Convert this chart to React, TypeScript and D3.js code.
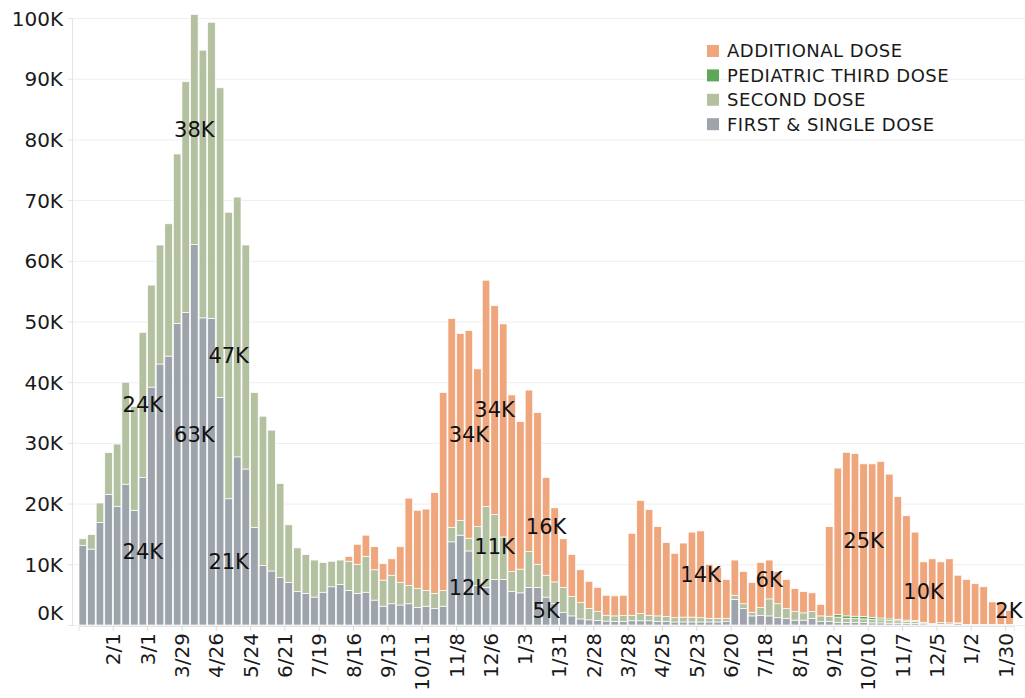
import { useEffect, useRef } from 'react';
import * as d3 from 'd3';

// weekly doses, in thousands, weeks starting Mon 1/4/2021
const FIRST = [
  13.1, 12.5, 16.9, 21.5, 19.5, 23.2, 18.9, 24.3, 39.2, 43.0, 44.3, 49.7, 51.5, 62.7, 50.6, 50.5, 37.5, 20.8, 27.7, 25.7,
  16.1, 9.8, 8.9, 7.8, 7.0, 5.5, 5.2, 4.6, 5.4, 6.3, 6.7, 5.7, 5.2, 5.4, 4.1, 3.1, 3.5, 3.3, 3.5, 2.9,
  3.1, 2.7, 3.1, 13.7, 14.8, 12.2, 6.5, 6.2, 7.5, 7.5, 5.5, 5.3, 6.2, 6.2, 4.6, 3.5, 2.1, 1.5, 1.0, 0.85,
  0.75, 0.65, 0.6, 0.6, 0.7, 0.7, 0.7, 0.6, 0.6, 0.5, 0.5, 0.5, 0.5, 0.5, 0.5, 0.55, 4.2, 2.7, 1.5, 1.6,
  1.5, 1.2, 1.1, 0.8, 0.8, 1.1, 0.55, 0.55, 0.45, 0.4, 0.4, 0.4, 0.35, 0.35, 0.3, 0.3, 0.25, 0.25, 0.2, 0.1,
  0.1, 0.1, 0.25, 0.05, 0.05, 0.05, 0.05, 0.05, 0.05,
];
const SECOND = [
  1.1, 2.4, 3.2, 6.9, 10.3, 16.8, 17.1, 23.9, 16.8, 19.6, 21.8, 27.9, 38.0, 37.9, 44.1, 48.8, 51.0, 47.2, 42.8, 36.9,
  22.2, 24.6, 23.2, 15.5, 9.5, 7.2, 6.4, 6.1, 4.9, 4.2, 4.0, 4.8, 4.8, 5.9, 5.0, 4.3, 4.7, 3.7, 3.0, 3.1,
  2.6, 2.5, 2.6, 2.4, 2.4, 2.1, 9.7, 13.3, 10.7, 7.0, 3.3, 3.9, 5.9, 3.8, 3.6, 3.6, 4.1, 3.2, 2.7, 1.9,
  1.45, 0.95, 0.9, 0.95, 0.9, 1.2, 0.9, 0.9, 0.8, 0.7, 0.8, 0.8, 0.7, 0.6, 0.6, 0.55, 0.7, 0.8, 0.6, 1.3,
  2.8, 2.3, 1.6, 1.4, 1.2, 1.1, 0.95, 0.85, 0.85, 0.7, 0.65, 0.6, 0.55, 0.5, 0.45, 0.4, 0.35, 0.35, 0.2, 0.15,
  0.3, 0.25, 0.1, 0.05, 0.05, 0.05, 0.05, 0.05, 0.05,
];
const PEDIATRIC = [
  0, 0, 0, 0, 0, 0, 0, 0, 0, 0, 0, 0, 0, 0, 0, 0, 0, 0, 0, 0,
  0, 0, 0, 0, 0, 0, 0, 0, 0, 0, 0, 0, 0, 0, 0, 0, 0, 0, 0, 0,
  0, 0, 0, 0, 0, 0, 0, 0, 0, 0, 0, 0, 0, 0, 0, 0, 0, 0, 0, 0,
  0, 0, 0, 0, 0, 0, 0, 0, 0, 0, 0, 0, 0, 0, 0, 0, 0, 0, 0, 0,
  0, 0, 0, 0, 0, 0, 0, 0.05, 0.4, 0.4, 0.4, 0.4, 0.35, 0.3, 0.25, 0.25, 0.2, 0.15, 0.05, 0,
  0, 0, 0, 0, 0, 0, 0, 0, 0,
];
const ADDITIONAL = [
  0, 0, 0, 0, 0, 0, 0, 0, 0, 0, 0, 0, 0, 0, 0, 0, 0, 0, 0, 0,
  0, 0, 0, 0, 0, 0, 0, 0, 0, 0, 0, 0.8, 3.3, 3.5, 3.8, 2.7, 2.7, 5.9, 14.4, 12.9,
  13.4, 16.6, 32.6, 34.4, 30.8, 34.2, 26.0, 37.3, 34.4, 35.1, 29.1, 24.3, 26.6, 25.0, 16.1, 12.2, 8.0, 6.9, 5.4, 4.45,
  4.0, 3.3, 3.3, 3.35, 13.5, 18.6, 17.4, 14.7, 12.2, 10.6, 12.2, 14.0, 14.3, 8.9, 8.4, 6.4, 5.8, 5.3, 4.9, 7.4,
  6.4, 5.3, 4.8, 3.8, 3.5, 3.1, 1.9, 14.75, 24.15, 26.95, 26.8, 25.15, 25.3, 25.8, 23.85, 20.2, 17.2, 14.55, 9.95, 10.65,
  10.0, 10.55, 7.85, 7.4, 6.7, 6.2, 3.7, 3.6, 2.3,
];

const SERIES = [
  { key: 'first', label: 'FIRST & SINGLE DOSE', color: '#9ea4ab', values: FIRST },
  { key: 'second', label: 'SECOND DOSE', color: '#b3c1a1', values: SECOND },
  { key: 'pediatric', label: 'PEDIATRIC THIRD DOSE', color: '#5ea758', values: PEDIATRIC },
  { key: 'additional', label: 'ADDITIONAL DOSE', color: '#f0a67c', values: ADDITIONAL },
];

// value labels: week index + series
const LABELS = [
  { week: 7, key: 'second' }, { week: 7, key: 'first' },
  { week: 13, key: 'second' }, { week: 13, key: 'first' },
  { week: 17, key: 'second' }, { week: 17, key: 'first' },
  { week: 45, key: 'additional' }, { week: 45, key: 'first' },
  { week: 48, key: 'additional' }, { week: 48, key: 'second' },
  { week: 54, key: 'additional' }, { week: 54, key: 'first' },
  { week: 72, key: 'additional' }, { week: 80, key: 'additional' },
  { week: 91, key: 'additional' }, { week: 98, key: 'additional' },
  { week: 108, key: 'additional' },
];

const Y_TICKS = [0, 10, 20, 30, 40, 50, 60, 70, 80, 90, 100];
const START = new Date(Date.UTC(2021, 0, 4));
const FONT = 'DejaVu Sans, sans-serif';

export default function App() {
  const ref = useRef<SVGSVGElement>(null);

  useEffect(() => {
    if (!ref.current) return;
    const svg = d3.select(ref.current);
    svg.selectAll('*').remove();

    const end = d3.utcDay.offset(START, FIRST.length * 7);
    const weeks = d3.utcMonday.range(START, end);
    const rows = weeks.map((d, i) => {
      const r: any = { date: d };
      SERIES.forEach(s => { r[s.key] = s.values[i]; });
      return r;
    });
    const stacked = d3.stack<any>().keys(SERIES.map(s => s.key))(rows);

    const x = d3.scaleUtc().domain([START, end]).range([78.5, 1013.7]);
    const y = d3.scaleLinear().domain([0, 100]).range([625, 18]);

    // grid
    svg.append('g').selectAll('line').data(Y_TICKS).join('line')
      .attr('x1', 72).attr('x2', 1025)
      .attr('y1', d => y(d) + 0.5).attr('y2', d => y(d) + 0.5)
      .attr('stroke', '#eeeeee');

    // y axis
    const yAxis = svg.append('g').attr('transform', 'translate(72,0)')
      .call(d3.axisLeft(y).tickValues(Y_TICKS).tickSize(4).tickPadding(5).tickFormat(d => `${d}K`));
    yAxis.select('.domain').attr('stroke', '#e4e4e4');
    yAxis.selectAll('.tick line').attr('stroke', '#e4e4e4');
    yAxis.selectAll('text').attr('font-family', FONT).attr('font-size', 20).attr('fill', '#1a1a1a')
      .attr('dy', (d: any) => (d === 0 ? '-0.3em' : '0.35em'));

    // bars
    const stepW = x(d3.utcDay.offset(START, 7)) - x(START);
    svg.append('g').selectAll('g').data(stacked).join('g')
      .attr('fill', (_, i) => SERIES[i].color)
      .selectAll('rect').data(d => d).join('rect')
      .attr('x', d => x(d.data.date) + 0.5)
      .attr('width', stepW - 1)
      .attr('y', d => y(d[1]))
      .attr('height', d => Math.max(0, y(d[0]) - y(d[1])))
      .attr('stroke', '#fff').attr('stroke-width', 0.7);

    // x axis
    const ticks = weeks.filter((_, i) => i >= 4 && i % 4 === 0);
    const xAxis = svg.append('g').attr('transform', 'translate(0,626)')
      .call(d3.axisBottom(x).tickValues(ticks).tickSize(5).tickFormat(d => d3.utcFormat('%-m/%-d')(d as Date)));
    xAxis.select('.domain').attr('stroke', '#e4e4e4');
    xAxis.selectAll('.tick line').attr('stroke', '#dcdcdc');
    xAxis.selectAll('text')
      .attr('font-family', FONT).attr('font-size', 20).attr('fill', '#1a1a1a')
      .attr('transform', 'rotate(-90)')
      .attr('text-anchor', 'end')
      .attr('x', -7).attr('y', 0).attr('dy', '0.35em');

    // value labels
    svg.append('g').selectAll('text').data(LABELS).join('text')
      .attr('x', d => x(weeks[d.week]) + stepW / 2)
      .attr('y', d => {
        const layer = stacked[SERIES.findIndex(s => s.key === d.key)][d.week];
        return Math.min(y((layer[0] + layer[1]) / 2), y(0) - 14);
      })
      .attr('dy', '0.35em')
      .attr('text-anchor', d => (d.week === 108 ? 'end' : 'middle'))
      .attr('dx', d => (d.week === 108 ? 13 : 0))
      .attr('font-family', FONT).attr('font-size', 21).attr('fill', '#111')
      .text(d => {
        const s = SERIES.find(s => s.key === d.key)!;
        return `${Math.round(s.values[d.week])}K`;
      });

    // legend
    const legend = svg.append('g').attr('transform', 'translate(707,51)');
    [...SERIES].reverse().forEach((s, i) => {
      legend.append('rect').attr('x', 0).attr('y', i * 24.4 - 6).attr('width', 12).attr('height', 12)
        .attr('fill', s.color);
      legend.append('text').attr('x', 20).attr('y', i * 24.4).attr('dy', '0.35em')
        .attr('font-family', FONT).attr('font-size', 18).attr('letter-spacing', 0.5)
        .attr('fill', '#1a1a1a').text(s.label);
    });
  }, []);

  return (
    <svg ref={ref} width={1025} height={698}
      style={{ position: 'absolute', left: 0, top: 0, background: '#fff' }} />
  );
}
